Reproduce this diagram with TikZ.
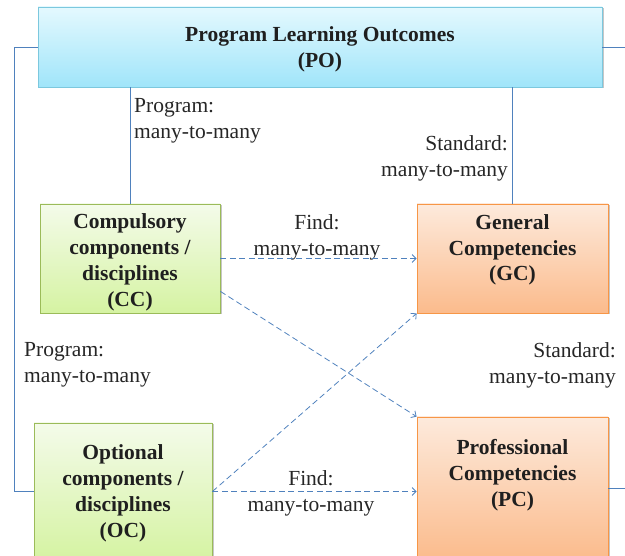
\documentclass[tikz,border=0pt]{standalone}
\usepackage{fontspec}
\setmainfont{Liberation Serif}
\usetikzlibrary{arrows.meta,calc,positioning,shadows}

\definecolor{poline}{HTML}{7CC8DE}
\definecolor{potop}{HTML}{E4F9FE}
\definecolor{pobottom}{HTML}{A0E5FA}
\definecolor{discline}{HTML}{9BBB59}
\definecolor{disctop}{HTML}{F4FBEA}
\definecolor{discbottom}{HTML}{D5F3A2}
\definecolor{compline}{HTML}{F79646}
\definecolor{comptop}{HTML}{FDEADC}
\definecolor{compbottom}{HTML}{FBBB8C}
\definecolor{linkblue}{HTML}{4F81BD}

\begin{document}
\begin{tikzpicture}
    [x=1pt,y=-1pt,font=\fontsize{21.5}{25.8}\selectfont,
    box/.style={draw,line width=0.8pt,inner sep=0pt,
      drop shadow={shadow xshift=1.5pt,shadow yshift=-1.5pt,opacity=0.45}},
    outcome/.style={box,draw=poline,top color=potop,bottom color=pobottom},
    discipline/.style={box,draw=discline,top color=disctop,bottom color=discbottom},
    competency/.style={box,draw=compline,top color=comptop,bottom color=compbottom},
    boxtext/.style={font=\fontsize{21.5}{25.8}\selectfont\bfseries,align=center,text=black!88,inner sep=0pt},
    note/.style={text=black!85,inner sep=0pt},
    mapping/.style={draw=linkblue,line width=0.8pt},
    relation/.style={draw=linkblue,line width=0.8pt,dash pattern=on 6pt off 3.5pt,
      -{Straight Barb[length=4pt,width=8pt]}}]

    \useasboundingbox (0,0) rectangle (625,556);

    \node[outcome,minimum width=564pt,minimum height=80pt] (po) at (320,47) {};
    \node[boxtext] (potext) at (320,49.5) {Program Learning Outcomes\\(PO)};

    \node[discipline,minimum width=180pt,minimum height=109pt] (cc) at (130,258.5) {};
    \node[boxtext] (cctext) at (130,262.5) {Compulsory\\components /\\disciplines\\(CC)};
    \node[competency,minimum width=191pt,minimum height=109pt] (gc) at (512.5,258.5) {};
    \node[boxtext] (gctext) at (512.5,250) {General\\Competencies\\(GC)};

    \node[discipline,minimum width=178pt,minimum height=137pt] (oc) at (123,491.5) {};
    \node[boxtext] (octext) at (123,493.5) {Optional\\components /\\disciplines\\(OC)};
    \node[competency,minimum width=191pt,minimum height=143pt] (pc) at (512.5,488.5) {};
    \node[boxtext] (pctext) at (512.5,475) {Professional\\Competencies\\(PC)};

    \node[note,align=left,anchor=west] (ccnote) at (134,121) {Program:\\many-to-many};
    \node[note,align=right,anchor=east] (gcnote) at (508,158) {Standard:\\many-to-many};
    \node[note,align=center] (findgc) at (317,237.5) {Find:\\many-to-many};
    \node[note,align=left,anchor=west] (ocnote) at (24,365) {Program:\\many-to-many};
    \node[note,align=right,anchor=east] (pcnote) at (616,365) {Standard:\\many-to-many};
    \node[note,align=center] (findpc) at (311,493) {Find:\\many-to-many};

    % program and standard links
    \path[mapping] (cc.north |- po.south) -- (cc.north);
    \path[mapping] (gc.north |- po.south) -- (gc.north);
    \path[mapping] (po.west) -- ++(-23,0) |- (oc.west);
    \path[mapping] (po.east) -- ++(40,0) |- (pc.east);

    % find links
    \path[relation] (cc.east) -- (gc.west);
    \path[relation] (cc.-20) -- (pc.north west);
    \path[relation] (oc.east) -- (gc.south west);
    \path[relation] (oc.east) -- (oc.east -| pc.west);
  \end{tikzpicture}
\end{document}
